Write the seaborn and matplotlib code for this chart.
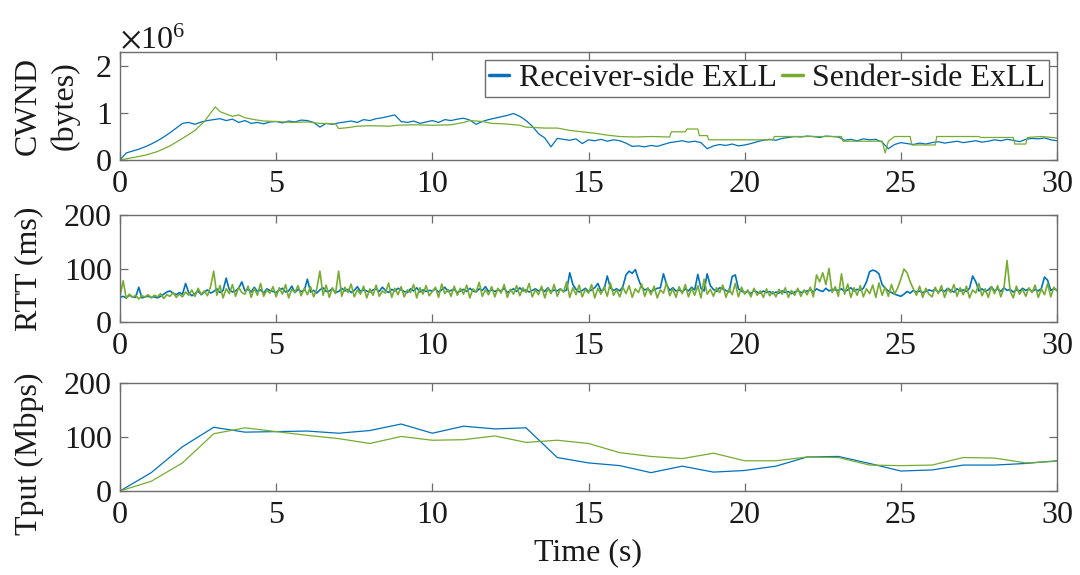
import numpy as np
import pandas as pd
import matplotlib
matplotlib.use("Agg")
import matplotlib.pyplot as plt
import seaborn as sns
from matplotlib.ticker import ScalarFormatter

# ---------------- data ----------------
series_names = ["Receiver-side ExLL", "Sender-side ExLL"]
colors = ["#0072BD", "#77AC30"]

# CWND (units of 1e6 bytes) -- receiver-side, sampled every 0.2 s
cwnd_rx_t = [round(0.2 * i, 1) for i in range(151)]
cwnd_rx_mb = [
    0.00, 0.15, 0.19, 0.23, 0.28, 0.34, 0.41, 0.49, 0.58, 0.68,
    0.78, 0.80, 0.76, 0.81, 0.84, 0.86, 0.88, 0.84, 0.87, 0.80,
    0.84, 0.78, 0.80, 0.77, 0.81, 0.82, 0.79, 0.83, 0.81, 0.85,
    0.84, 0.80, 0.70, 0.78, 0.76, 0.79, 0.81, 0.83, 0.80, 0.86,
    0.84, 0.88, 0.90, 0.93, 0.96, 0.82, 0.80, 0.83, 0.78, 0.81,
    0.84, 0.80, 0.86, 0.84, 0.87, 0.89, 0.85, 0.76, 0.82, 0.86,
    0.89, 0.92, 0.95, 0.99, 0.93, 0.84, 0.72, 0.56, 0.47, 0.28,
    0.46, 0.44, 0.42, 0.45, 0.35, 0.43, 0.41, 0.44, 0.40, 0.43,
    0.41, 0.36, 0.29, 0.30, 0.28, 0.31, 0.29, 0.33, 0.37, 0.39,
    0.41, 0.38, 0.40, 0.37, 0.24, 0.30, 0.33, 0.31, 0.34, 0.30,
    0.32, 0.35, 0.39, 0.42, 0.44, 0.42, 0.46, 0.48, 0.50, 0.49,
    0.51, 0.50, 0.48, 0.51, 0.50, 0.49, 0.42, 0.44, 0.41, 0.45,
    0.43, 0.44, 0.38, 0.24, 0.33, 0.37, 0.35, 0.33, 0.36, 0.34,
    0.37, 0.39, 0.36, 0.38, 0.40, 0.37, 0.39, 0.41, 0.38, 0.40,
    0.43, 0.41, 0.44, 0.42, 0.39, 0.44, 0.46, 0.45, 0.47, 0.43,
    0.41,
]

# CWND (units of 1e6 bytes) -- sender-side, irregular sample times (step changes)
cwnd_tx_t = [
    0.0, 0.4, 0.8, 1.2, 1.6, 2.0, 2.4, 2.7, 2.9, 3.05, 3.2, 3.4, 3.6, 3.8,
    4.0, 4.3, 4.6, 5.0, 5.5, 6.0, 6.4, 6.9, 7.0, 7.3, 7.6, 8.0, 8.6, 8.9,
    9.4, 10.0, 10.6, 11.0, 11.2, 11.6, 11.9, 12.3, 12.8, 13.0, 13.6, 14.0,
    14.4, 14.8, 15.2, 15.6, 16.0, 16.5, 17.0, 17.6, 17.65, 18.1, 18.15,
    18.5, 18.55, 18.8, 18.85, 20.0, 20.9, 20.95, 23.1, 23.15, 24.4, 24.5,
    24.6, 24.8, 25.3, 25.35, 26.1, 26.15, 27.5, 27.55, 28.6, 28.65, 29.0,
    29.05, 29.5, 30.0,
]
cwnd_tx_mb = [
    0.00, 0.05, 0.10, 0.18, 0.30, 0.46, 0.63, 0.82, 1.00, 1.13, 1.03, 0.98,
    0.93, 0.96, 0.90, 0.86, 0.83, 0.82, 0.80, 0.81, 0.78, 0.77, 0.67, 0.69,
    0.72, 0.73, 0.72, 0.74, 0.75, 0.74, 0.75, 0.80, 0.84, 0.82, 0.78, 0.77,
    0.74, 0.70, 0.68, 0.68, 0.63, 0.60, 0.57, 0.53, 0.50, 0.49, 0.50, 0.49,
    0.60, 0.60, 0.66, 0.66, 0.52, 0.52, 0.43, 0.43, 0.43, 0.50, 0.50, 0.40,
    0.40, 0.15, 0.40, 0.50, 0.50, 0.32, 0.32, 0.50, 0.50, 0.48, 0.48, 0.34,
    0.34, 0.48, 0.50, 0.47,
]

# RTT (ms), sampled every 0.1 s
rtt_t = [round(0.1 * i, 1) for i in range(301)]
rtt_rx = [
    46, 48, 45, 50, 47, 46, 65, 45, 47, 48,
    46, 47, 45, 48, 52, 56, 58, 54, 51, 55,
    52, 72, 55, 49, 53, 58, 51, 56, 60, 54,
    57, 62, 55, 59, 82, 60, 56, 58, 63, 75,
    58, 61, 56, 65, 57, 60, 54, 62, 59, 57,
    55, 60, 63, 56, 58, 67, 55, 61, 57, 59,
    80, 56, 59, 54, 60, 64, 57, 58, 62, 55,
    57, 63, 58, 61, 55, 59, 66, 57, 60, 58,
    56, 60, 62, 57, 65, 59, 55, 61, 58, 63,
    60, 57, 55, 62, 58, 64, 56, 60, 57, 59,
    58, 62, 56, 60, 65, 57, 59, 61, 55, 58,
    61, 57, 63, 58, 56, 62, 59, 66, 57, 60,
    57, 60, 58, 63, 55, 59, 62, 57, 64, 58,
    60, 56, 59, 62, 58, 61, 57, 64, 56, 60,
    58, 62, 57, 60, 92, 70, 61, 56, 59, 63,
    57, 60, 64, 72, 58, 61, 86, 64, 59, 62,
    58, 66, 88, 95, 91, 98, 80, 65, 60, 62,
    57, 60, 63, 64, 90, 70, 59, 64, 58, 60,
    56, 62, 58, 65, 60, 89, 63, 58, 90, 68,
    61, 57, 64, 62, 59, 56, 85, 88, 62, 58,
    55, 57, 53, 59, 56, 54, 58, 55, 57, 53,
    56, 54, 58, 55, 57, 53, 56, 59, 55, 57,
    58, 60, 56, 62, 59, 57, 63, 58, 61, 60,
    59, 62, 57, 60, 64, 58, 61, 59, 63, 75,
    94, 97, 95, 90, 70, 63, 58, 55, 52, 50,
    48, 52, 57, 54, 59, 56, 58, 55, 57, 60,
    58, 61, 56, 60, 57, 63, 59, 56, 62, 58,
    60, 57, 63, 86, 75, 58, 62, 57, 60, 66,
    58, 62, 57, 64, 59, 61, 56, 60, 58, 63,
    59, 62, 57, 61, 58, 63, 84, 78, 59, 62,
    60,
]
rtt_tx = [
    48, 77, 44, 52, 46, 50, 43, 49, 47, 51,
    45, 50, 47, 53, 44, 51, 48, 55, 46, 52,
    47, 56, 50, 60, 48, 63, 52, 58, 49, 66,
    95, 50, 68, 45, 62, 53, 70, 48, 65, 55,
    52, 67, 46, 63, 50, 72, 48, 60, 54, 66,
    47, 64, 52, 70, 45, 61, 55, 68, 49, 63,
    51, 66, 47, 62, 95, 50, 69, 46, 64, 53,
    95, 48, 65, 55, 71, 47, 60, 52, 67, 45,
    62, 50, 69, 48, 58, 54, 73, 46, 63, 51,
    66, 47, 60, 55, 70, 45, 64, 52, 68, 49,
    57, 65, 46, 71, 53, 61, 48, 67, 50, 63,
    52, 69, 45, 62, 56, 74, 48, 60, 51, 66,
    47, 63, 54, 70, 46, 61, 52, 68, 49, 64,
    55, 72, 47, 60, 51, 67, 45, 63, 53, 70,
    48, 62, 56, 75, 46, 64, 51, 69, 47, 61,
    54, 70, 45, 63, 52, 66, 48, 73, 50, 60,
    47, 65, 53, 68, 46, 62, 55, 71, 48, 64,
    51, 67, 45, 60, 54, 73, 49, 62, 46, 66,
    53, 70, 47, 63, 50, 68, 45, 80, 52, 61,
    48, 64, 55, 69, 46, 62, 51, 72, 47, 65,
    52, 60, 47, 63, 50, 58, 46, 62, 49, 57,
    47, 61, 52, 64, 46, 59, 50, 63, 48, 60,
    51, 65, 47, 88, 75, 92, 70, 100, 55, 66,
    48, 90, 52, 71, 46, 64, 50, 68, 47, 62,
    53, 69, 46, 73, 50, 65, 48, 70, 52, 64,
    80, 99, 92, 75, 62, 50, 67, 46, 63, 52,
    47, 65, 53, 68, 46, 62, 55, 70, 48, 64,
    51, 67, 45, 60, 54, 72, 49, 62, 46, 66,
    53, 68, 47, 63, 115, 58, 45, 67, 52, 61,
    48, 64, 55, 69, 46, 62, 51, 72, 47, 65,
    58,
]

# Throughput (Mbps), one sample per second
tput_t = list(range(31))
tput_rx = [0, 34, 82, 118, 109, 110, 111, 107, 112, 124, 107, 120, 115, 117, 62,
           52, 47, 34, 46, 35, 38, 46, 63, 64, 51, 37, 39, 48, 48, 51, 56]
tput_tx = [0, 18, 52, 106, 117, 110, 103, 97, 88, 101, 94, 95, 102, 90, 94,
           88, 71, 64, 60, 70, 56, 56, 63, 62, 48, 47, 48, 62, 61, 52, 55]

xticks = [0, 5, 10, 15, 20, 25, 30]
cwnd_ticks = [0, 1e6, 2e6]
rtt_ticks = [0, 100, 200]
tput_ticks = [0, 100, 200]

# ---------------- style ----------------
sns.set_theme(style="white")
plt.rcParams["font.family"] = ["Liberation Serif", "DejaVu Serif"]
plt.rcParams["mathtext.fontset"] = "stix"

FS = 23
SPINE = "#6d6d6d"
TXT = "#1a1a1a"

fig = plt.figure(figsize=(10.8, 5.75), dpi=100)
L, W = 120 / 1080, 937 / 1080
ax1 = fig.add_axes([L, 1 - 160 / 575, W, 108 / 575])
ax2 = fig.add_axes([L, 1 - 322 / 575, W, 107 / 575])
ax3 = fig.add_axes([L, 1 - 491 / 575, W, 108 / 575])

cw_rx = pd.DataFrame({"t": cwnd_rx_t, "v": np.array(cwnd_rx_mb) * 1e6})
cw_tx = pd.DataFrame({"t": cwnd_tx_t, "v": np.array(cwnd_tx_mb) * 1e6})
sns.lineplot(data=cw_rx, x="t", y="v", ax=ax1, color=colors[0], lw=0.9,
             estimator=None, label=series_names[0])
sns.lineplot(data=cw_tx, x="t", y="v", ax=ax1, color=colors[1], lw=0.9,
             estimator=None, label=series_names[1])

rt = pd.DataFrame({"t": rtt_t, "rx": rtt_rx, "tx": rtt_tx})
sns.lineplot(data=rt, x="t", y="rx", ax=ax2, color=colors[0], lw=1.2, estimator=None)
sns.lineplot(data=rt, x="t", y="tx", ax=ax2, color=colors[1], lw=1.2, estimator=None)

tp = pd.DataFrame({"t": tput_t, "rx": tput_rx, "tx": tput_tx})
sns.lineplot(data=tp, x="t", y="rx", ax=ax3, color=colors[0], lw=0.9, estimator=None)
sns.lineplot(data=tp, x="t", y="tx", ax=ax3, color=colors[1], lw=0.9, estimator=None)

for ax in (ax1, ax2, ax3):
    ax.set_xlim(0, 30)
    ax.set_xticks(xticks)
    ax.set_xlabel("")
    ax.set_ylabel("")
    for s in ax.spines.values():
        s.set_visible(True)
        s.set_color(SPINE)
        s.set_linewidth(1.0)
    ax.tick_params(direction="in", length=6, width=0.9, colors=SPINE,
                   labelcolor=TXT, labelsize=FS, top=True, right=True,
                   bottom=True, left=True)
    ax.tick_params(axis="x", pad=7)
    ax.tick_params(axis="y", pad=6)

ax1.set_ylim(0, 2.3e6)
ax1.set_yticks(cwnd_ticks)
fmt = ScalarFormatter(useMathText=True)
fmt.set_powerlimits((0, 0))
ax1.yaxis.set_major_formatter(fmt)
ax1.yaxis.get_offset_text().set_fontsize(FS)
ax1.yaxis.get_offset_text().set_color(TXT)

ax2.set_ylim(0, 200)
ax2.set_yticks(rtt_ticks)
ax3.set_ylim(0, 200)
ax3.set_yticks(tput_ticks)

leg = ax1.legend(loc="upper right", ncol=2, fontsize=FS, frameon=True,
                 fancybox=False, edgecolor=SPINE, framealpha=1,
                 handlelength=0.65, handletextpad=0.3, columnspacing=0.15,
                 borderpad=0.12, borderaxespad=0.25)
leg.get_frame().set_linewidth(1.0)
for h in leg.get_lines():
    h.set_linewidth(2.5)
for t in leg.get_texts():
    t.set_color(TXT)

fig.text(47 / 1080, 1 - 106 / 575, "CWND\n(bytes)", rotation=90, ha="center",
         va="center", multialignment="center", fontsize=FS, color=TXT,
         linespacing=1.32)
fig.text(29 / 1080, 1 - 269 / 575, "RTT (ms)", rotation=90, ha="center",
         va="center", fontsize=FS, color=TXT)
fig.text(29 / 1080, 1 - 454 / 575, "Tput (Mbps)", rotation=90, ha="center",
         va="center", fontsize=FS, color=TXT)
fig.text(588 / 1080, 1 - 553 / 575, "Time (s)", ha="center", va="center",
         fontsize=FS, color=TXT)

fig.savefig("out.png", dpi=100, facecolor="white")
